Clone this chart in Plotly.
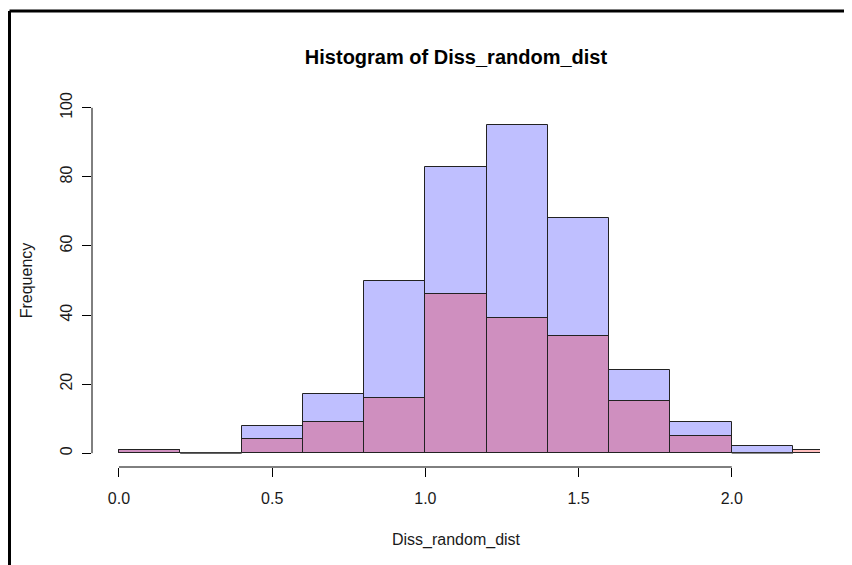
import plotly.graph_objects as go

# Histogram bin edges (width 0.2)
BIN_LEFT = [0.0, 0.2, 0.4, 0.6, 0.8, 1.0, 1.2, 1.4, 1.6, 1.8, 2.0, 2.2]
BIN_WIDTH = 0.2
# Counts
BLUE_COUNTS = [1, 0, 8, 17, 50, 83, 95, 68, 24, 9, 2, None]
PINK_COUNTS = [1, 0, 4, 9, 16, 46, 39, 34, 15, 5, 0, 1]

XTICKS = [0.0, 0.5, 1.0, 1.5, 2.0]
XTICK_LABELS = ["0.0", "0.5", "1.0", "1.5", "2.0"]
YTICKS = [0, 20, 40, 60, 80, 100]
YTICK_LABELS = ["0", "20", "40", "60", "80", "100"]

TITLE = "Histogram of Diss_random_dist"
XLABEL = "Diss_random_dist"
YLABEL = "Frequency"

# page has an 8px body margin, so the figure is sized to fill the rest
OFF = 8
W, H = 852 - OFF, 565 - OFF
L, R, T, B = 92 - OFF, 32, 94 - OFF, 98
FONT = "Liberation Sans, Arial, sans-serif"
TXT = "#1a1a1a"

fig = go.Figure()

def add_hist(counts, color):
    xs = [l + BIN_WIDTH / 2 for l, c in zip(BIN_LEFT, counts) if c is not None]
    ys = [c for c in counts if c is not None]
    fig.add_trace(go.Bar(
        x=xs, y=ys, width=BIN_WIDTH,
        marker=dict(color=color, line=dict(color="#222222", width=1)),
        showlegend=False, hoverinfo="x+y",
    ))
    # zero-count bins drawn as flat lines like R does
    for l, c in zip(BIN_LEFT, counts):
        if c == 0:
            fig.add_trace(go.Scatter(
                x=[l, l + BIN_WIDTH], y=[0, 0], mode="lines",
                line=dict(color="#555555", width=1), showlegend=False,
                hoverinfo="skip",
            ))

add_hist(BLUE_COUNTS, "rgba(0,0,255,0.25)")
add_hist(PINK_COUNTS, "rgba(255,0,0,0.25)")

plot_w = W - L - R
plot_h = H - T - B
# axis lines spanning first to last tick (R style)
fig.add_shape(type="line", xref="x", yref="paper",
              x0=min(XTICKS), x1=max(XTICKS), y0=0, y1=0,
              line=dict(color="black", width=1))
fig.add_shape(type="line", xref="paper", yref="y",
              x0=0, x1=0, y0=min(YTICKS), y1=max(YTICKS),
              line=dict(color="black", width=1))
# screenshot frame (left and top black edges)
fx = (9.5 - OFF - L) / plot_w
fy = (T - (11 - OFF)) / plot_h + 1
fig.add_shape(type="line", xref="paper", yref="paper",
              x0=fx, x1=fx, y0=fy, y1=-(H - T - plot_h) / plot_h - 0.05,
              line=dict(color="black", width=3))
fig.add_shape(type="line", xref="paper", yref="paper",
              x0=fx, x1=(W - L) / plot_w + 0.05, y0=fy, y1=fy,
              line=dict(color="black", width=3))

fig.update_layout(
    width=W, height=H,
    margin=dict(l=L, r=R, t=T, b=B, pad=0),
    barmode="overlay", bargap=0,
    plot_bgcolor="white", paper_bgcolor="white",
    font=dict(family=FONT, size=16, color=TXT),
    title=dict(text=TITLE, x=(L + plot_w / 2) / W, xanchor="center",
               y=1 - (57 - OFF) / H, yanchor="middle",
               font=dict(family=FONT, size=20, color="black", weight="bold")),
    xaxis=dict(range=[-0.088, 2.288], tickvals=XTICKS, ticktext=XTICK_LABELS,
               ticks="outside", ticklen=9, tickcolor="black", showgrid=False,
               zeroline=False, showline=False,
               title=dict(text=XLABEL, standoff=27, font=dict(size=16)),
               ticklabelstandoff=8),
    yaxis=dict(range=[-4, 104], tickvals=YTICKS, ticktext=YTICK_LABELS,
               ticks="outside", ticklen=9, tickcolor="black", showgrid=False,
               zeroline=False, showline=False, tickangle=-90,
               title=dict(text=YLABEL, standoff=20, font=dict(size=16)),
               ticklabelstandoff=4),
)

fig.write_html("out.html")
